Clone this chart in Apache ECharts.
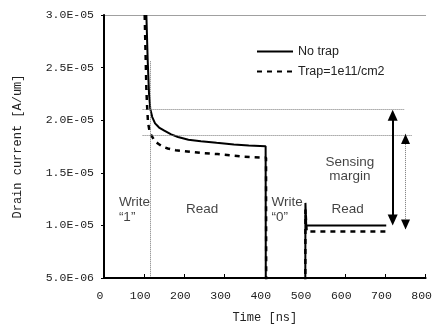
<!DOCTYPE html>
<html>
<head>
<meta charset="utf-8">
<script src="https://cdn.jsdelivr.net/npm/echarts@6/dist/echarts.min.js"></script>
<style>
  html, body { margin: 0; padding: 0; background: #fff; }
  #main { width: 435px; height: 329px; }
</style>
</head>
<body>
<div id="main"></div>
<script>
// measured curves (time in ns, current in A/um); 0 = below the axis (off scale)
const noTrapTime = [105.4, 108.6, 112, 115, 120, 127, 137, 150, 167, 184, 210, 241, 280, 323, 360, 402, 402.5, 500.5, 501, 503, 702];
const noTrapCurrent = [3.0e-5, 2.58e-5, 2.25e-5, 2.11e-5, 2.03e-5, 1.97e-5, 1.93e-5, 1.90e-5, 1.865e-5, 1.84e-5, 1.815e-5, 1.80e-5, 1.785e-5, 1.77e-5, 1.76e-5, 1.753e-5, 0, 0, 1.214e-5, 1.0e-5, 1.0e-5];
const trapTime = [101.2, 105.4, 107, 109.4, 113, 117.8, 125, 134, 145, 158.8, 178, 200, 240, 282, 348, 403, 403.5, 500.5, 501, 504, 702];
const trapCurrent = [3.0e-5, 2.295e-5, 2.15e-5, 1.982e-5, 1.90e-5, 1.856e-5, 1.81e-5, 1.778e-5, 1.75e-5, 1.731e-5, 1.715e-5, 1.706e-5, 1.69e-5, 1.678e-5, 1.653e-5, 1.644e-5, 0, 0, 1.15e-5, 9.42e-6, 9.42e-6];

const seriesNames = ["No trap", "Trap=1e11/cm2"];
const yTickLabels = ["5.0E-06", "1.0E-05", "1.5E-05", "2.0E-05", "2.5E-05", "3.0E-05"];

// dotted guide lines: [x start, x end, level]
const guideLevels = [[96, 748, 2.1e-5], [96, 765, 1.856e-5], [541, 815, 1.017e-5]];
const guideTime = [116, 2.56e-5, 5e-6]; // x, top, bottom
// sensing margin arrows: [x, top, bottom]
const marginArrow = [718, 2.1e-5, 1.0e-5];
const trapArrow = [750, 1.87e-5, 9.6e-6];

// phase labels
const writeNotes = [[37, 1.149e-5, "Write\n\u201c1\u201d"], [416.5, 1.149e-5, "Write\n\u201c0\u201d"]];
const centerNotes = [[244, 1.155e-5, "Read"], [606, 1.155e-5, "Read"], [611.6, 1.53e-5, "Sensing\nmargin"]];

const pair = (xs, ys) => xs.map((x, i) => [x, ys[i]]);
const monoFont = "Liberation Mono";
const sansFont = "Liberation Sans";

// filled arrow heads whose tips sit on the given points
function arrowHeads(a, size) {
  return [
    { coord: [a[0], a[1]], symbolRotate: 0, symbolOffset: [0, size[1] / 2] },
    { coord: [a[0], a[2]], symbolRotate: 180, symbolOffset: [0, -size[1] / 2] },
  ].map((d) => Object.assign(d, { symbol: "triangle", symbolSize: size }));
}

const chart = echarts.init(document.getElementById("main"));

const frameAxis = {
  type: "value",
  axisLine: { show: true, lineStyle: { color: "#a0a0a0", width: 1 } },
  axisTick: { show: false },
  axisLabel: { show: false },
  splitLine: { show: false },
};

const option = {
  animation: false,
  grid: { left: 104, right: 7, top: 15, bottom: 48 },
  legend: {
    data: seriesNames,
    orient: "vertical",
    left: 256, top: 45,
    padding: 0,
    itemWidth: 36, itemHeight: 12, itemGap: 7,
    itemStyle: { opacity: 0 },
    textStyle: { fontFamily: sansFont, fontSize: 12.5, color: "#222" },
  },
  xAxis: [
    {
      type: "value",
      min: 0, max: 800, interval: 100,
      name: "Time [ns]",
      nameLocation: "middle",
      nameGap: 34,
      nameTextStyle: { fontFamily: monoFont, fontSize: 12, color: "#222" },
      axisLine: { lineStyle: { color: "#000", width: 2 } },
      axisTick: { inside: true, length: 4, lineStyle: { color: "#000" } },
      axisLabel: { fontFamily: monoFont, fontSize: 11.5, color: "#222", margin: 12, padding: [0, 8, 0, 0] },
      splitLine: { show: false },
      z: 5,
    },
    Object.assign({ position: "top", min: 0, max: 800 }, frameAxis),
  ],
  yAxis: [
    {
      type: "value",
      min: 5e-6, max: 3e-5, interval: 5e-6,
      name: "Drain current [A/um]",
      nameLocation: "middle",
      nameGap: 80,
      nameTextStyle: { fontFamily: monoFont, fontSize: 12, color: "#222" },
      axisLine: { show: true, lineStyle: { color: "#000", width: 2 } },
      axisTick: { show: true, length: 3, lineStyle: { color: "#000" } },
      axisLabel: {
        fontFamily: monoFont, fontSize: 11.5, color: "#222", margin: 10,
        formatter: (v) => yTickLabels[Math.round((v - 5e-6) / 5e-6)],
      },
      splitLine: { show: false },
      z: 5,
    },
    Object.assign({ position: "right", min: 5e-6, max: 3e-5 }, frameAxis),
  ],
  series: [
    {
      name: seriesNames[0],
      type: "line",
      data: pair(noTrapTime, noTrapCurrent),
      symbol: "none",
      color: "#000",
      lineStyle: { color: "#000", width: 2 },
      z: 4,
    },
    {
      name: seriesNames[1],
      type: "line",
      data: pair(trapTime, trapCurrent),
      symbol: "none",
      color: "#000",
      lineStyle: { color: "#000", width: 2.5, type: [5, 5] },
      z: 3,
    },
    {
      name: "guides",
      type: "line",
      data: [],
      clip: false,
      markLine: {
        silent: true,
        symbol: "none",
        label: { show: false },
        lineStyle: { color: "#777", width: 1, type: [1, 1] },
        data: guideLevels.map((g) => [{ coord: [g[0], g[2]] }, { coord: [g[1], g[2]] }])
          .concat([
            [{ coord: [guideTime[0], guideTime[1]] }, { coord: [guideTime[0], guideTime[2]] }],
            [{ coord: [trapArrow[0], trapArrow[1]] }, { coord: [trapArrow[0], trapArrow[2]] }],
          ]),
      },
    },
    {
      name: "arrows",
      type: "line",
      data: [],
      clip: false,
      markLine: {
        silent: true,
        symbol: "none",
        label: { show: false },
        lineStyle: { color: "#000", width: 2, type: "solid" },
        data: [[{ coord: [marginArrow[0], marginArrow[1] - 4e-7] }, { coord: [marginArrow[0], marginArrow[2] + 4e-7] }]],
      },
      markPoint: {
        silent: true,
        label: { show: false },
        itemStyle: { color: "#000" },
        data: arrowHeads(marginArrow, [10, 11]).concat(arrowHeads(trapArrow, [9, 10])),
      },
    },
    {
      name: "writeNotes",
      type: "scatter",
      data: writeNotes,
      symbolSize: 0,
      silent: true,
      label: {
        show: true, position: "inside", align: "left", verticalAlign: "middle",
        fontFamily: sansFont, fontSize: 13.5, lineHeight: 15, color: "#111",
        formatter: (p) => p.data[2],
      },
    },
    {
      name: "centerNotes",
      type: "scatter",
      data: centerNotes,
      symbolSize: 0,
      silent: true,
      label: {
        show: true, position: "inside", align: "center", verticalAlign: "middle",
        fontFamily: sansFont, fontSize: 13.5, lineHeight: 14, color: "#111",
        formatter: (p) => p.data[2],
      },
    },
  ],
};

chart.setOption(option);
</script>
</body>
</html>
